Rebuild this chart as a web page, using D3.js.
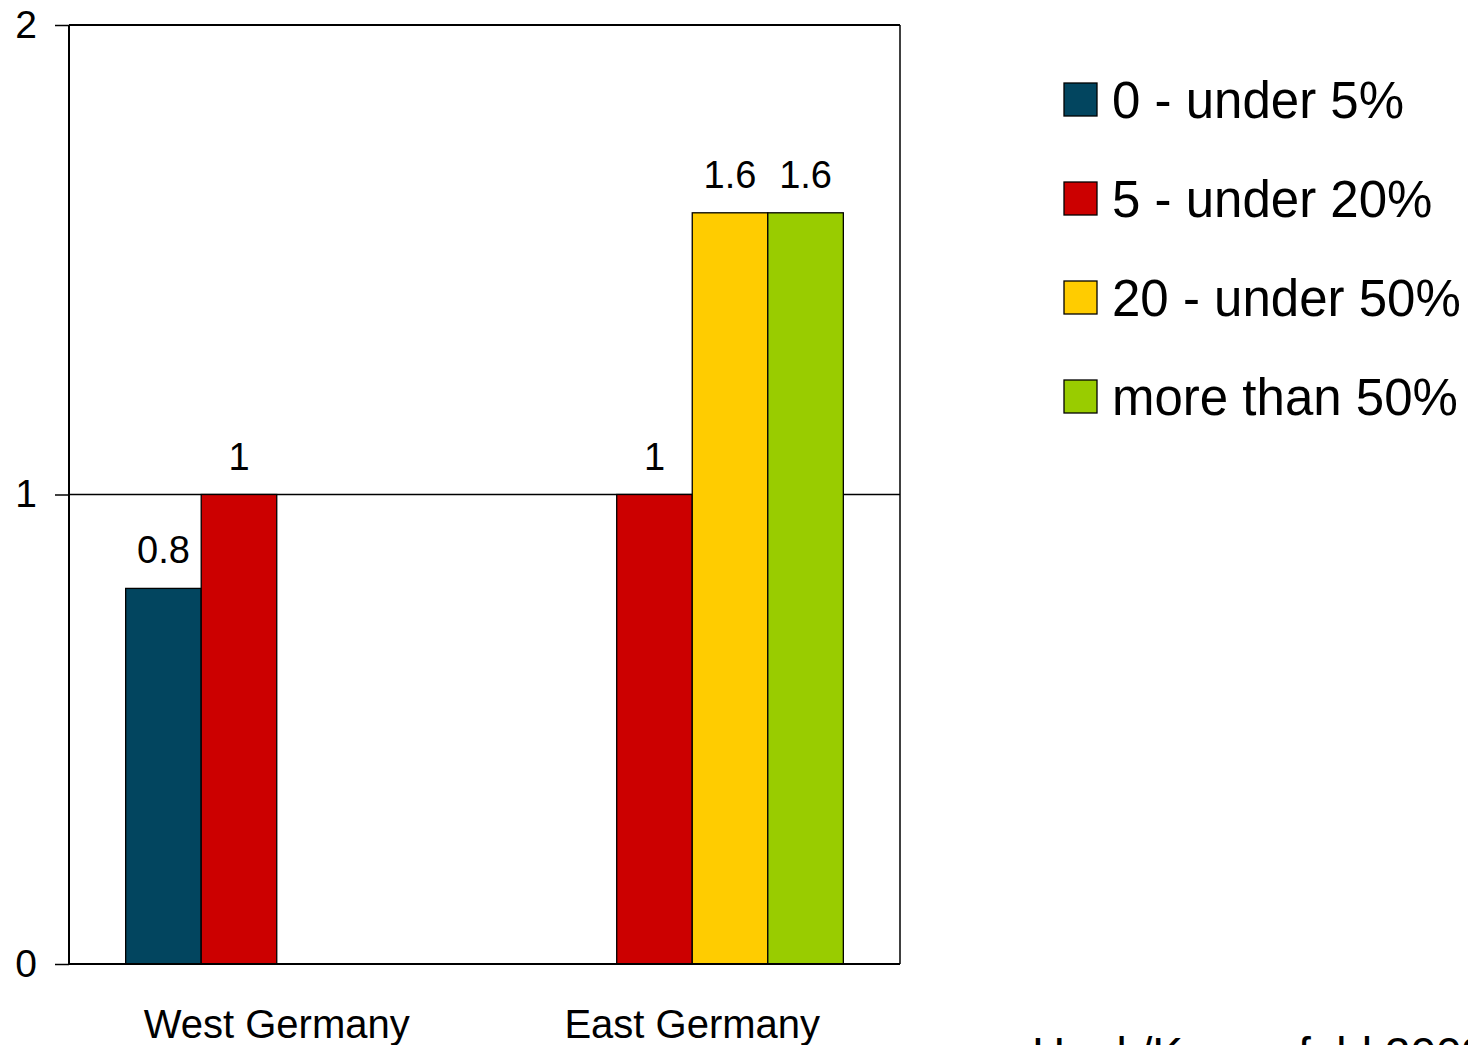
<!DOCTYPE html>
<html><head><meta charset="utf-8">
<script src="https://cdn.jsdelivr.net/npm/d3@7"></script>
<style>
html,body{margin:0;padding:0;background:#fff;}
svg{display:block;font-family:"Liberation Sans",Arial,sans-serif;}
</style></head>
<body>
<svg id="chart" width="1468" height="1045"></svg>
<script>
const categories = ["West Germany", "East Germany"];
const seriesNames = ["0 - under 5%", "5 - under 20%", "20 - under 50%", "more than 50%"];
const seriesColors = ["#02455f", "#cc0000", "#ffcc00", "#99cc00"];
const westValues = [0.8, 1, null, null];
const eastValues = [null, 1, 1.6, 1.6];
const valueLabels = [["0.8", "1", null, null], [null, "1", "1.6", "1.6"]];
const yTicks = [0, 1, 2];
const sourceText = "Hank/Kreyenfeld 2003";

const values = [westValues, eastValues];
const svg = d3.select("#chart");
const pL = 69, pR = 900, pT = 25, pB = 964;

const y = d3.scaleLinear().domain([0, 2]).range([pB, pT]);
const x0 = d3.scaleBand().domain(categories).range([pL, pR]).padding(0);
const x1 = d3.scaleBand().domain(d3.range(seriesNames.length)).range([0, x0.bandwidth()]).paddingInner(0).paddingOuter(0.75);

// plot border (top/right)
svg.append("line").attr("x1", pL).attr("x2", pR).attr("y1", pT).attr("y2", pT).attr("stroke", "#000").attr("stroke-width", 2);
svg.append("line").attr("x1", pR).attr("x2", pR).attr("y1", pT).attr("y2", pB).attr("stroke", "#000").attr("stroke-width", 1.5);

// gridline at 1
yTicks.filter(t => t > 0 && t < 2).forEach(t => {
  svg.append("line").attr("x1", pL).attr("x2", pR).attr("y1", y(t)).attr("y2", y(t)).attr("stroke", "#000").attr("stroke-width", 1.5);
});

// bars
const groups = svg.selectAll("g.cat").data(categories).enter().append("g")
  .attr("transform", d => `translate(${x0(d)},0)`);
groups.each(function(cat, ci) {
  const g = d3.select(this);
  values[ci].forEach((v, si) => {
    if (v == null) return;
    g.append("rect")
      .attr("x", x1(si)).attr("width", x1.bandwidth())
      .attr("y", y(v)).attr("height", y(0) - y(v))
      .attr("fill", seriesColors[si]).attr("stroke", "#000").attr("stroke-width", 1.3);
    g.append("text")
      .attr("x", x1(si) + x1.bandwidth() / 2).attr("y", y(v) - 25)
      .attr("text-anchor", "middle").attr("font-size", 38).attr("fill", "#000")
      .text(valueLabels[ci][si]);
  });
});

// y axis
const yAxis = d3.axisLeft(y).tickValues(yTicks).tickSize(14).tickPadding(18).tickFormat(d3.format("d"));
const ya = svg.append("g").attr("transform", `translate(${pL},0)`).call(yAxis);
ya.select(".domain").attr("stroke", "#000").attr("stroke-width", 2).attr("d", `M0,${pT}V${pB}`);
ya.selectAll(".tick line").attr("stroke", "#000").attr("stroke-width", 1.5);
ya.selectAll(".tick text").attr("font-size", 39).attr("fill", "#000").attr("font-family", "Liberation Sans, Arial, sans-serif");

// x axis
const xAxis = d3.axisBottom(x0).tickSize(0).tickPadding(74);
const xa = svg.append("g").attr("transform", `translate(0,${pB})`).call(xAxis);
xa.select(".domain").attr("stroke", "#000").attr("stroke-width", 2).attr("d", `M${pL},0H${pR}`);
xa.selectAll(".tick text").attr("font-size", 40).attr("fill", "#000").attr("font-family", "Liberation Sans, Arial, sans-serif").attr("dy", "0");

// legend
const legend = svg.append("g").attr("transform", "translate(1064,83)");
seriesNames.forEach((name, i) => {
  const row = legend.append("g").attr("transform", `translate(0,${i * 99})`);
  row.append("rect").attr("x", 0).attr("y", 0).attr("width", 33).attr("height", 33)
    .attr("fill", seriesColors[i]).attr("stroke", "#000").attr("stroke-width", 1.3);
  row.append("text").attr("x", 48).attr("y", 35).attr("font-size", 51).attr("fill", "#000").text(name);
});

// source (cut off at bottom edge, as in the reference)
svg.append("text").attr("x", 1032).attr("y", 1070).attr("font-size", 46).attr("fill", "#000").text(sourceText);
</script>
</body></html>
